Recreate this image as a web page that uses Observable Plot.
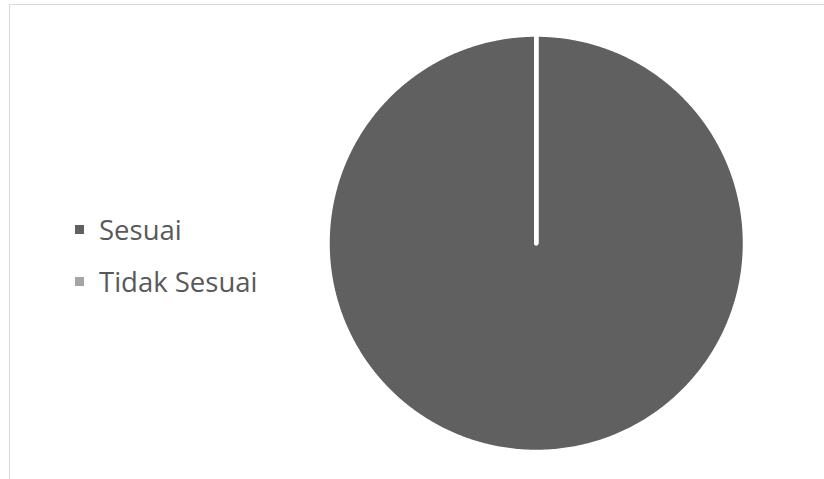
<!DOCTYPE html>
<html><head><meta charset="utf-8">
<script src="https://cdn.jsdelivr.net/npm/d3@7"></script>
<script src="https://cdn.jsdelivr.net/npm/@observablehq/plot@0.6"></script>
<style>
html,body{margin:0;padding:0;background:#fff;}
#chart{position:relative;width:824px;height:479px;overflow:hidden;font-family:"Open Sans",sans-serif;}
#frame{position:absolute;left:9px;top:4px;width:830px;height:490px;border-top:1.5px solid #d9d9d9;border-left:1.5px solid #d9d9d9;}
#plot{position:absolute;left:0;top:0;}
.leg{position:absolute;left:75px;display:flex;align-items:center;font-size:27.5px;line-height:37px;color:#595959;white-space:nowrap;}
.sw{width:9px;height:9px;margin-right:15px;flex:none;}
</style></head><body>
<div id="chart"><div id="frame"></div><div id="plot"></div><div id="legend"></div></div>
<script>
const categories = ["Sesuai", "Tidak Sesuai"];
const values = [100, 0];
const colors = ["#606060", "#a5a5a5"];

// layout
const cx = 535.75, cy = 242.75, r = 206.5, sw = 4.5;
const rd = r + sw / 2;

const arcs = d3.pie().sort(null).value(d => d)(values);
const points = [];
arcs.forEach((a, i) => {
  const cat = categories[i];
  points.push({category: cat, x: 0, y: 0});
  const span = a.endAngle - a.startAngle;
  const n = Math.max(0, Math.ceil(span / (Math.PI / 360)));
  for (let k = 0; k <= n; k++) {
    const t = n === 0 ? a.startAngle : a.startAngle + span * k / n;
    points.push({category: cat, x: Math.sin(t), y: Math.cos(t)});
  }
  points.push({category: cat, x: 0, y: 0});
});

const chart = Plot.plot({
  width: 824,
  height: 479,
  margin: 0,
  style: {background: "transparent"},
  x: {domain: [-1, 1], range: [cx - rd, cx + rd], axis: null},
  y: {domain: [-1, 1], range: [cy + rd, cy - rd], axis: null},
  color: {domain: categories, range: colors},
  marks: [
    Plot.line(points, {x: "x", y: "y", z: "category", fill: "category", stroke: "white", strokeWidth: sw, strokeLinejoin: "round"})
  ]
});
document.getElementById("plot").appendChild(chart);

const legendTops = [211, 263];
const legend = document.getElementById("legend");
categories.forEach((c, i) => {
  const item = document.createElement("div");
  item.className = "leg";
  item.style.top = legendTops[i] + "px";
  const s = document.createElement("span");
  s.className = "sw";
  s.style.background = colors[i];
  const t = document.createElement("span");
  t.textContent = c;
  item.appendChild(s);
  item.appendChild(t);
  legend.appendChild(item);
});
</script>
</body></html>
